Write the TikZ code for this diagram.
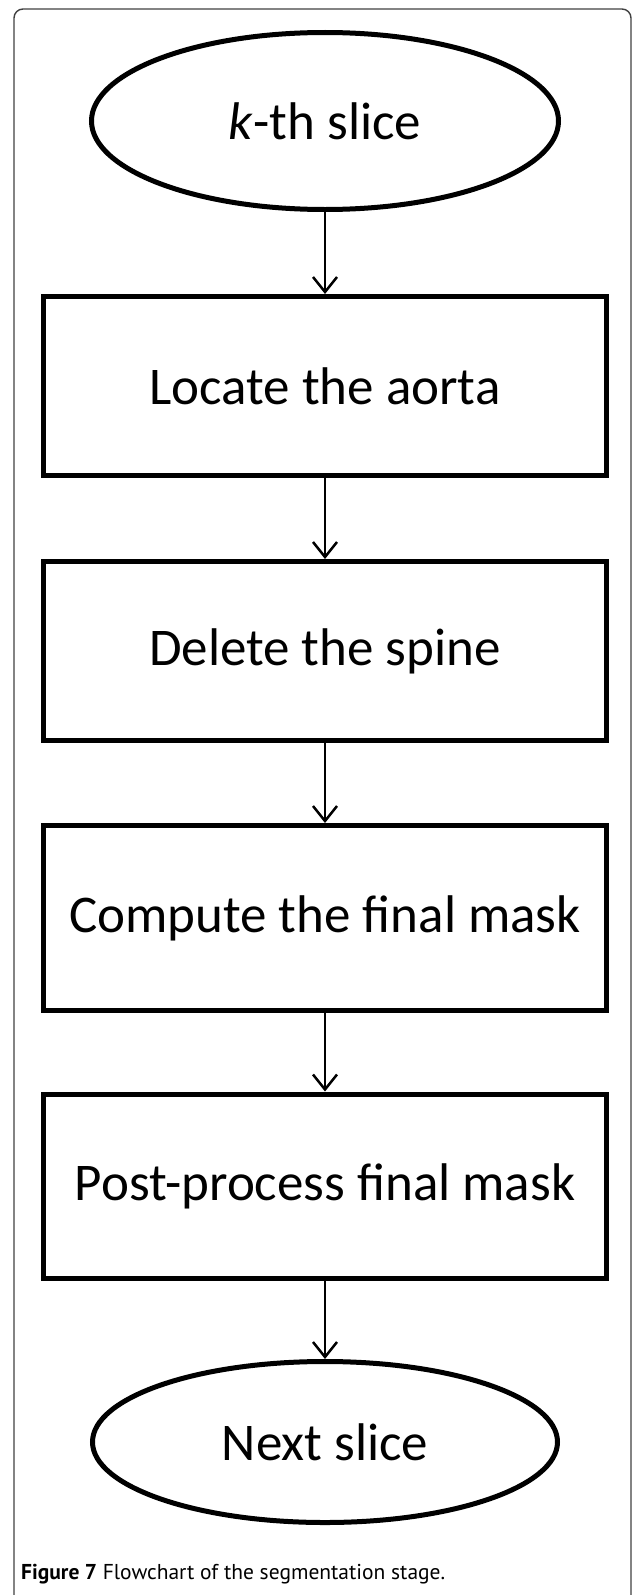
\documentclass[tikz,border=0pt]{standalone}
\usepackage{fontspec}
\setmainfont{Carlito}
\newfontfamily\capfont{PT Sans}
\usetikzlibrary{arrows.meta,shapes.geometric}

\begin{document}
\begin{tikzpicture}[x=1pt,y=-1pt,
    stepbox/.style={draw, line width=5pt, minimum width=563pt, minimum height=179pt, inner sep=0pt, font=\fontsize{53}{58}\selectfont},
    terminal/.style={draw, ellipse, line width=5pt, inner sep=0pt, font=\fontsize{53}{58}\selectfont},
    flow/.style={-{Straight Barb[length=15pt,width=24pt]}, line width=2.5pt}]
        \useasboundingbox (0,0) rectangle (633,1595);
        \draw[line width=1.4pt, black!75, rounded corners=9pt] (14,1600)--(14,9)--(631,9)--(631,1600);
        \node[terminal, minimum width=467pt, minimum height=177pt] (start) at (325,121) {\textit{k}-th slice};
        \node[stepbox] (aorta) at (325,386) {Locate the aorta};
        \node[stepbox] (spine) at (325,651) {Delete the spine};
        \node[stepbox, minimum height=185pt] (mask) at (325,918) {Compute the final mask};
        \node[stepbox, minimum height=184pt] (post) at (325,1186) {Post-process final mask};
        \node[terminal, minimum width=465pt, minimum height=161pt] (next) at (325,1442) {Next slice};
        \draw[flow] (start) -- (aorta);
        \draw[flow] (aorta) -- (spine);
        \draw[flow] (spine) -- (mask);
        \draw[flow] (mask) -- (post);
        \draw[flow] (post) -- (next);
        \node[anchor=base west, inner sep=0pt, font=\capfont\fontsize{21.5}{25}\selectfont] (caption) at (21,1579) {\textbf{Figure 7} Flowchart of the segmentation stage.};
      \end{tikzpicture}
\end{document}
